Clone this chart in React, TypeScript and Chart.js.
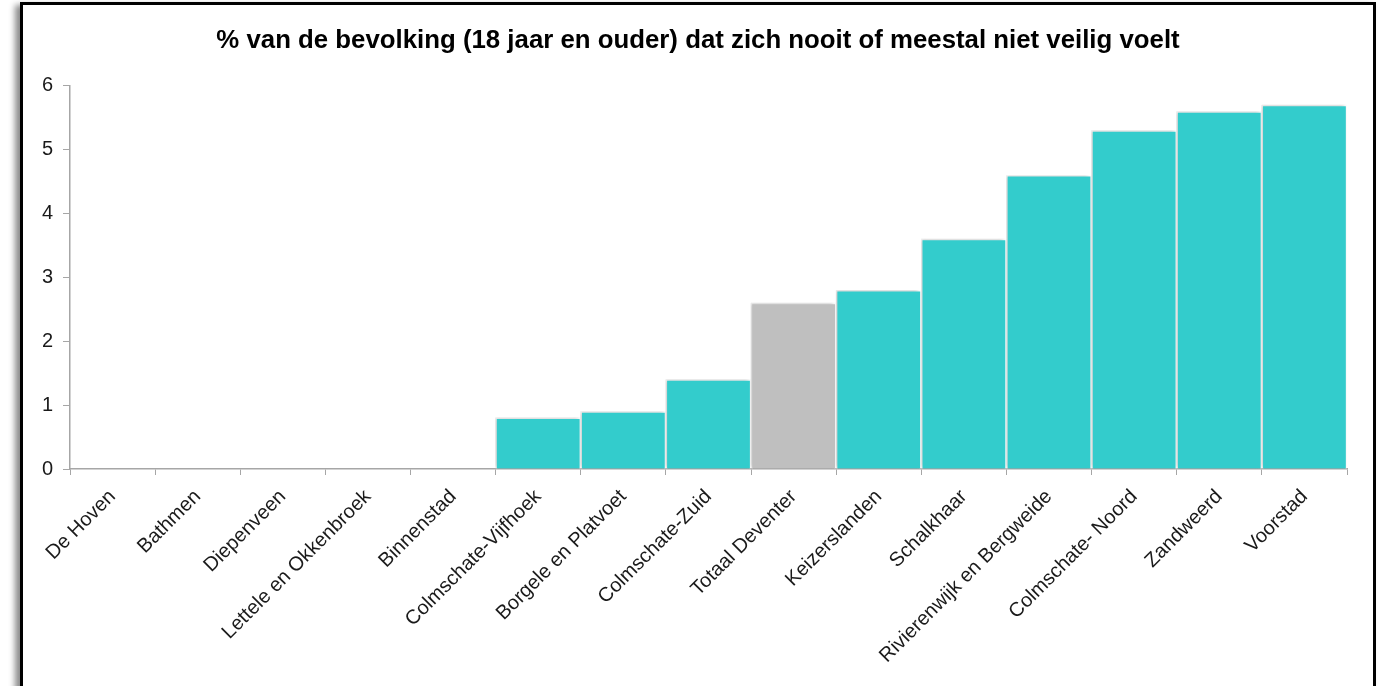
import React, { useEffect, useRef } from "react";
import { Chart, registerables } from "chart.js";

Chart.register(...registerables);

const TITLE = "% van de bevolking (18 jaar en ouder) dat zich nooit of meestal niet veilig voelt";

const categories = [
  "De Hoven",
  "Bathmen",
  "Diepenveen",
  "Lettele en Okkenbroek",
  "Binnenstad",
  "Colmschate-Vijfhoek",
  "Borgele en Platvoet",
  "Colmschate-Zuid",
  "Totaal Deventer",
  "Keizerslanden",
  "Schalkhaar",
  "Rivierenwijk en Bergweide",
  "Colmschate- Noord",
  "Zandweerd",
  "Voorstad",
];

const values = [0, 0, 0, 0, 0, 0.8, 0.9, 1.4, 2.6, 2.8, 3.6, 4.6, 5.3, 5.6, 5.7];

const highlightCategory = "Totaal Deventer";

const yTicks = [0, 1, 2, 3, 4, 5, 6];

const TEAL = "#33CCCC";
const GREY = "#BFBFBF";
const AXIS = "#A6A6A6";
const FONT = "'Liberation Sans', Arial, sans-serif";

const barShadow = {
  id: "barShadow",
  afterLayout(chart: any) {
    // centre the title over the framed area rather than the plot box
    if (chart.titleBlock) {
      chart.titleBlock.left = 20;
      chart.titleBlock.right = 1376;
    }
  },
  beforeDatasetsDraw(chart: any) {
    const ctx = chart.ctx;
    ctx.save();
    ctx.shadowColor = "rgba(0,0,0,0.2)";
    ctx.shadowBlur = 4;
    ctx.shadowOffsetX = -2;
    ctx.shadowOffsetY = -1;
  },
  afterDatasetsDraw(chart: any) {
    chart.ctx.restore();
  },
};

export default function App() {
  const ref = useRef<HTMLCanvasElement | null>(null);

  useEffect(() => {
    if (!ref.current) return;
    const chart = new Chart(ref.current, {
      type: "bar",
      data: {
        labels: categories,
        datasets: [
          {
            data: values,
            backgroundColor: categories.map((c) => (c === highlightCategory ? GREY : TEAL)),
            borderColor: "#FFFFFF",
            borderWidth: 1.5,
            borderSkipped: "bottom",
            barPercentage: 1,
            categoryPercentage: 1,
          },
        ],
      },
      plugins: [barShadow],
      options: {
        animation: false,
        responsive: false,
        maintainAspectRatio: false,
        layout: { padding: { left: 0, right: 35, top: 0, bottom: 0 } },
        plugins: {
          legend: { display: false },
          tooltip: { enabled: false },
          title: {
            display: true,
            text: TITLE,
            color: "#000000",
            font: { family: FONT, size: 25.8, weight: "bold", lineHeight: 1.2 },
            padding: { top: 25, bottom: 30 },
          },
        },
        scales: {
          x: {
            offset: true,
            grid: {
              offset: true,
              display: true,
              drawOnChartArea: false,
              drawTicks: true,
              tickLength: 6,
              color: AXIS,
            },
            border: { display: true, color: AXIS, width: 1.5 },
            ticks: {
              autoSkip: false,
              minRotation: 45,
              maxRotation: 45,
              color: "#1A1A1A",
              padding: 10,
              font: { family: FONT, size: 20 },
            },
            afterFit: (scale: any) => {
              scale.height = 686 - 469;
            },
          },
          y: {
            min: 0,
            max: 6,
            afterBuildTicks: (scale: any) => {
              scale.ticks = yTicks.map((v) => ({ value: v }));
            },
            grid: {
              display: true,
              drawOnChartArea: false,
              drawTicks: true,
              tickLength: 7,
              color: AXIS,
            },
            border: { display: true, color: AXIS, width: 1.5 },
            ticks: {
              color: "#1A1A1A",
              padding: 10,
              font: { family: FONT, size: 20 },
            },
            afterFit: (scale: any) => {
              scale.width = 70;
            },
          },
        },
      },
    });
    return () => chart.destroy();
  }, []);

  return (
    <div
      style={{
        position: "fixed",
        left: 0,
        top: 0,
        width: 1382,
        height: 686,
        overflow: "hidden",
        background: "#FFFFFF",
      }}
    >
      <div
        style={{
          position: "absolute",
          left: 20,
          top: 2,
          width: 1350,
          height: 740,
          border: "3px solid #000000",
          boxShadow: "-5px 3px 6px rgba(0,0,0,0.45)",
          background: "#FFFFFF",
        }}
      />
      <canvas
        ref={ref}
        width={1382}
        height={686}
        style={{ position: "absolute", left: 0, top: 0, width: 1382, height: 686 }}
      />
    </div>
  );
}
